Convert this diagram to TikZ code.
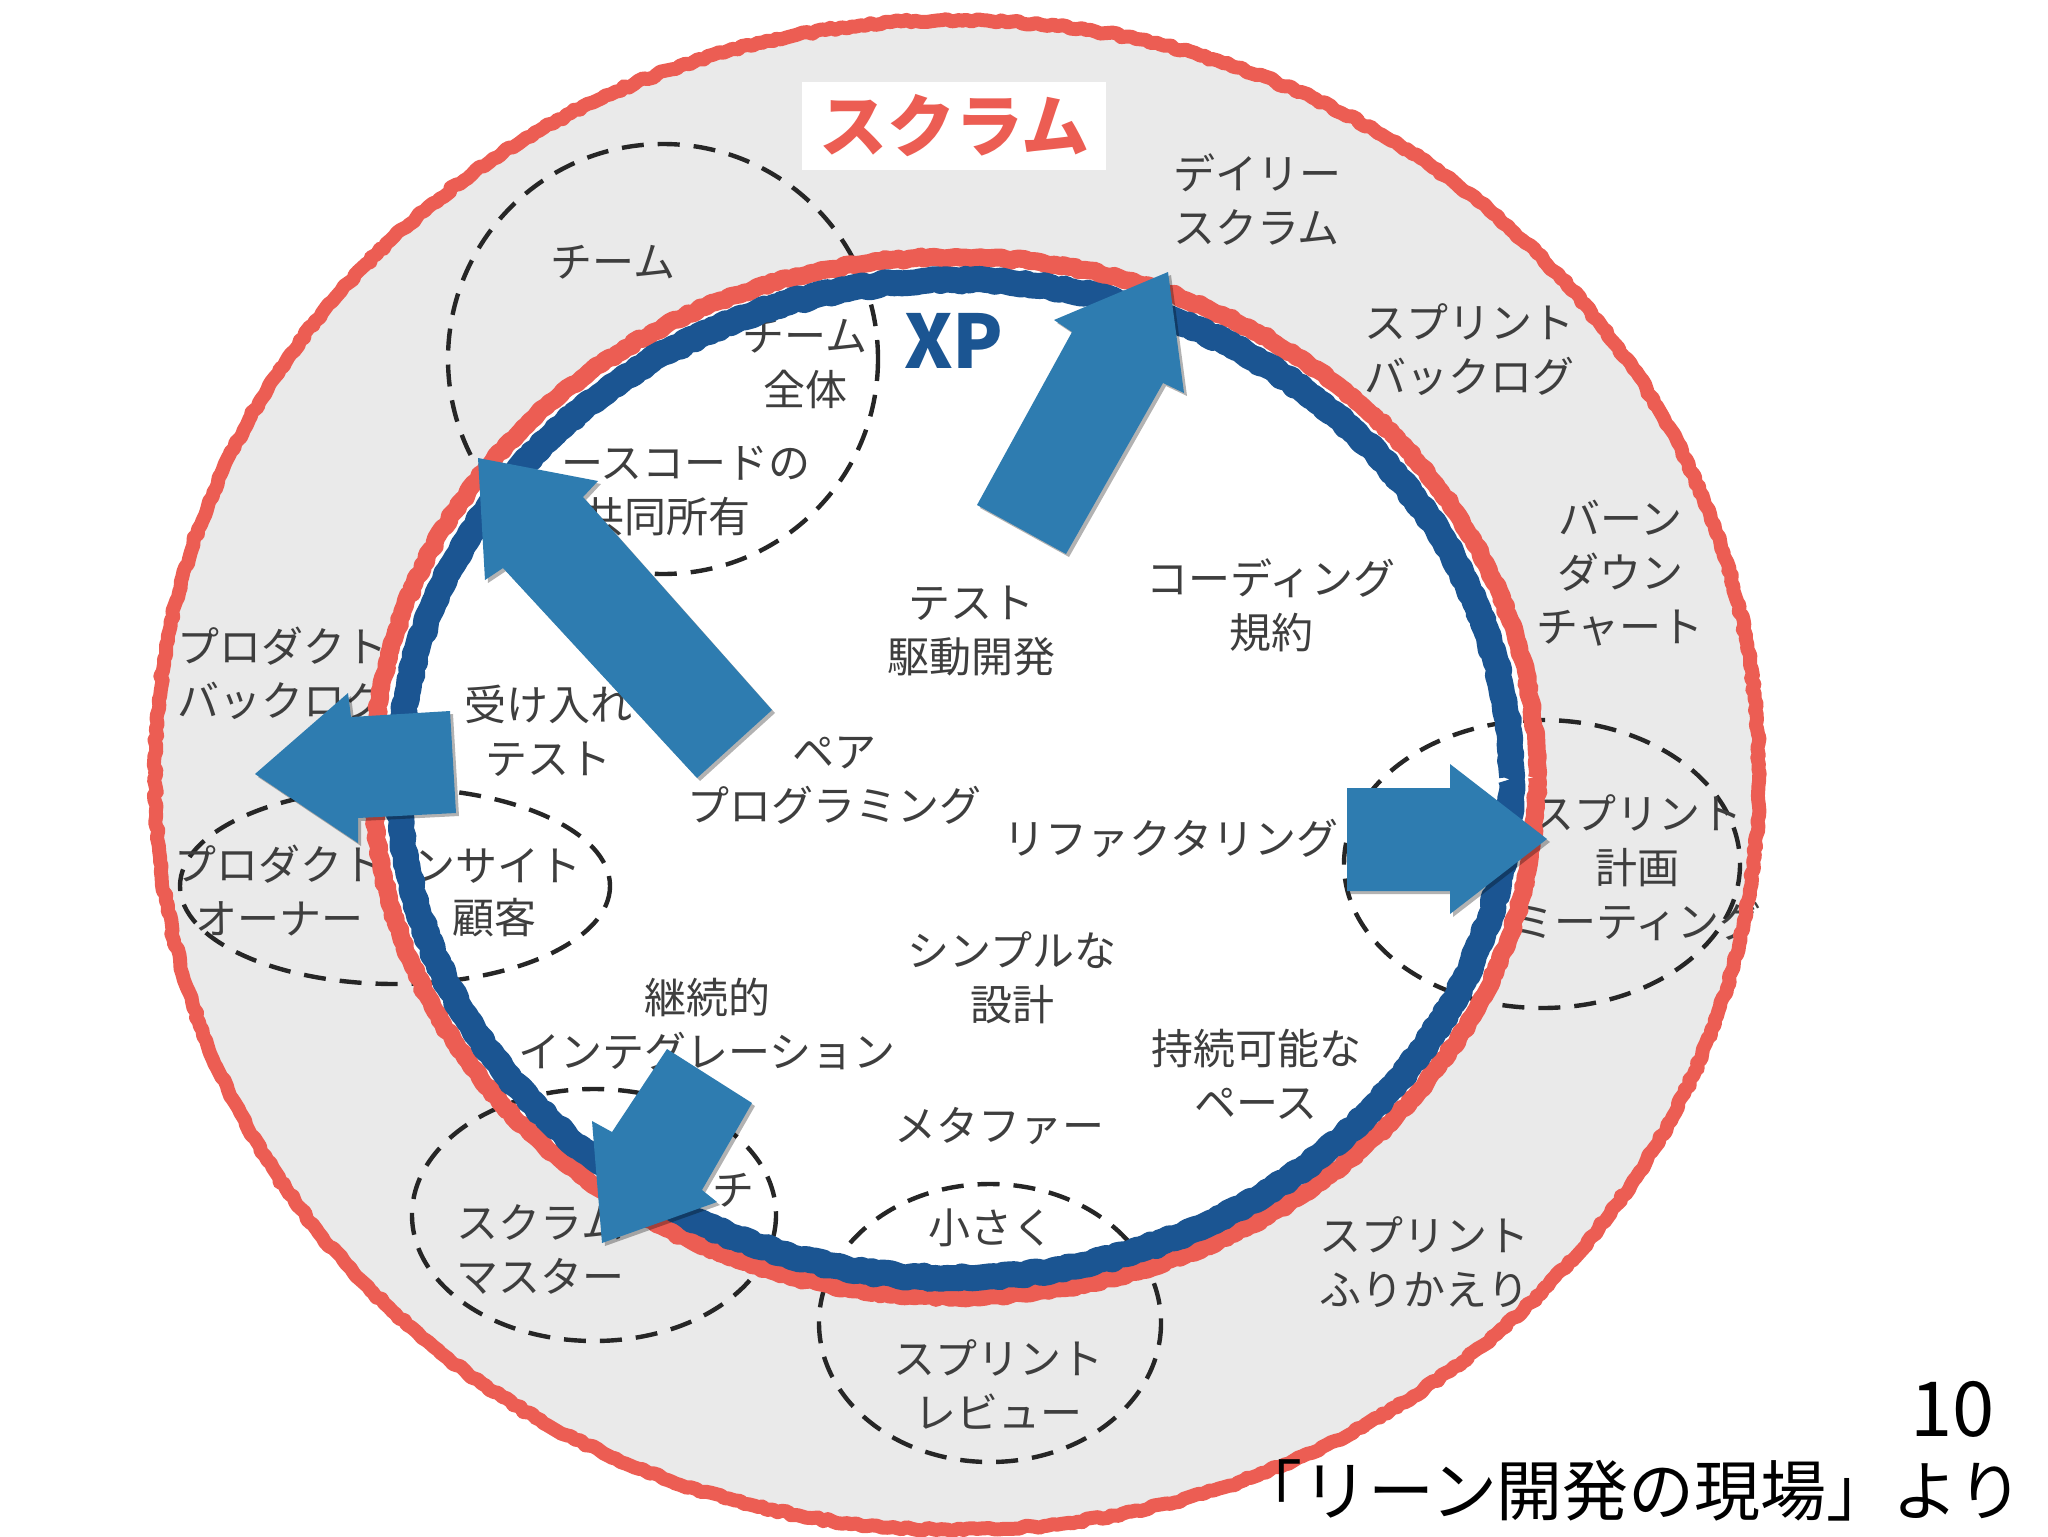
\documentclass[tikz,border=0pt]{standalone}
\usepackage{fontspec}
\setmainfont{Noto Sans CJK JP}
\usetikzlibrary{shadows,decorations.pathmorphing}
\definecolor{scrumred}{RGB}{236,93,83}
\definecolor{xpblue}{RGB}{27,85,146}
\definecolor{arrowblue}{RGB}{46,124,176}
\definecolor{ringgrey}{RGB}{234,234,234}
\definecolor{ink}{RGB}{62,62,62}
\newcommand{\lbl}{\fontsize{21}{27}\selectfont}

\begin{document}
\begin{tikzpicture}[x=0.5pt,y=-0.5pt,
  chalk/.style={decorate,decoration={random steps,segment length=2.5pt,amplitude=0.8pt},line join=round},
  cluster/.style={draw=black!85,line width=2.2pt,dash pattern=on 11pt off 7pt},
  term/.style={text=ink,font=\lbl,align=center,inner sep=0pt},
  bigarrow/.style={fill=arrowblue,drop shadow={shadow xshift=1.5pt,shadow yshift=-1.5pt,opacity=0.3,fill=black}}]
  \pgfmathsetseed{11}
  \useasboundingbox (0,0) rectangle (2048,1536);
  % scrum ring, XP inside
  \fill[ringgrey] (957,775) ellipse [x radius=802, y radius=755];
  \fill[white] (955,777) ellipse [x radius=582, y radius=520];

  % dashed groups
  \draw[cluster] (663,359) circle [radius=215];
  \draw[cluster] (395,886) ellipse [x radius=215, y radius=98];
  \draw[cluster] (1542,864) ellipse [x radius=198, y radius=144];
  \draw[cluster] (594,1215) ellipse [x radius=182, y radius=126];
  \draw[cluster] (990,1323) ellipse [x radius=171, y radius=139];

  % practices
  \node[term] (team) at (613,262) {チーム};
  \node[term] (wholeteam) at (805,364) {チーム\\全体};
  \node[term] (owncode) at (686,463) {ースコードの};
  \node[term] (owncode2) at (666,517) {共同所有};
  \node[term,align=left] (daily) at (1257,200) {デイリー\\スクラム};
  \node[term,align=left] (sbacklog) at (1469,350) {スプリント\\バックログ};
  \node[term] (burndown) at (1620,573) {バーン\\ダウン\\チャート};
  \node[term] (coding) at (1271,605) {コーディング\\規約};
  \node[term] (tdd) at (971,631) {テスト\\駆動開発};
  \node[term,align=left] (pbacklog) at (282,673) {プロダクト\\バックログ};
  \node[term] (accept) at (548,731) {受け入れ\\テスト};
  \node[term] (pair) at (834,781) {ペア\\プログラミング};
  \node[term] (refactor) at (1171,839) {リファクタリング};
  \node[term] (planning) at (1637,868) {スプリント\\計画\\ミーティング};
  \node[term] (powner) at (279,891) {プロダクト\\オーナー};
  \node[term] (onsite) at (497,866) {ンサイト};
  \node[term] (onsite2) at (494,918) {顧客};
  \node[term] (simple) at (1012,978) {シンプルな\\設計};
  \node[term] (ci) at (707,1024) {継続的\\インテグレーション};
  \node[term] (pace) at (1256,1074) {持続可能な\\ペース};
  \node[term] (metaphor) at (999,1126) {メタファー};
  \node[term] (coach) at (733,1190) {チ};
  \node[term,anchor=west,align=left] (smaster) at (456,1249) {スクラム\\マスター};
  \node[term] (small) at (991,1228) {小さく};
  \node[term] (review) at (998,1384) {スプリント\\レビュー};
  \node[term,anchor=west,align=left] (retro) at (1319,1262) {スプリント\\ふりかえり};

  % rings
  \draw[chalk,scrumred,line width=7pt] (957,775) ellipse [x radius=802, y radius=755];
  \draw[chalk,scrumred,line width=9pt] (955,777) ellipse [x radius=582, y radius=520];
  \draw[chalk,xpblue,line width=13pt] (955,779) ellipse [x radius=556, y radius=499];

  \node[fill=white,minimum width=152pt,minimum height=44pt,text=scrumred,
        font=\fontsize{34}{40}\bfseries\selectfont] (scrum) at (954,126) {スクラム};
  \node[text=xpblue,font=\fontsize{37}{44}\bfseries\selectfont,inner sep=0pt] (xp) at (954,341) {XP};

  % arrows
  \fill[bigarrow] (977,505) -- (1072,332) -- (1054,320) -- (1168,272) -- (1184,393) -- (1163,383) -- (1066,554) -- cycle;
  \fill[bigarrow] (772,710) -- (583,497) -- (598,481) -- (478,458) -- (485,580) -- (503,568) -- (697,778) -- cycle;
  \fill[bigarrow] (450,711) -- (351,717) -- (348,693) -- (255,774) -- (358,843) -- (358,818) -- (456,813) -- cycle;
  \fill[bigarrow] (1347,788) -- (1450,788) -- (1450,764) -- (1547,839) -- (1450,914) -- (1450,891) -- (1347,891) -- cycle;
  \fill[bigarrow] (667,1049) -- (752,1103) -- (702,1190) -- (717,1202) -- (602,1243) -- (592,1121) -- (612,1132) -- cycle;

  \node[anchor=east,inner sep=0pt,font=\fontsize{38}{44}\selectfont] (page) at (1995,1409) {10};
  \node[anchor=east,inner sep=0pt,font=\fontsize{33}{40}\selectfont] (source) at (2024,1490) {「リーン開発の現場」より};
\end{tikzpicture}
\end{document}
